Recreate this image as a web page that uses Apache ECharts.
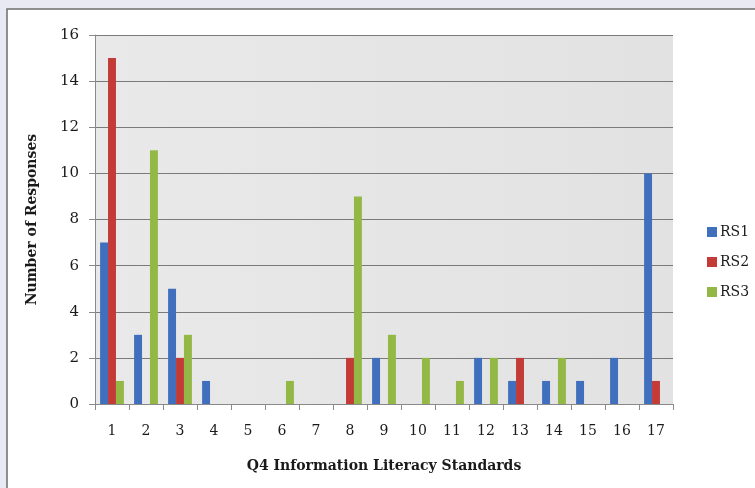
<!DOCTYPE html>
<html>
<head>
<meta charset="utf-8">
<script src="https://cdn.jsdelivr.net/npm/echarts@6/dist/echarts.min.js"></script>
<style>
  html, body { margin: 0; padding: 0; background: #e9e9f3; }
  #chart { width: 755px; height: 488px; }
</style>
</head>
<body>
<div id="chart"></div>
<script>
// Response counts per information literacy standard
const standards = ['1','2','3','4','5','6','7','8','9','10','11','12','13','14','15','16','17'];
const rs1 = [7, 3, 5, 1, 0, 0, 0, 0, 2, 0, 0, 2, 1, 1, 1, 2, 10];
const rs2 = [15, 0, 2, 0, 0, 0, 0, 2, 0, 0, 0, 0, 2, 0, 0, 0, 1];
const rs3 = [1, 11, 3, 0, 0, 1, 0, 9, 3, 2, 1, 2, 0, 2, 0, 0, 0];
const seriesNames = ['RS1', 'RS2', 'RS3'];
const seriesColors = ['#3f6fbd', '#c23b36', '#93b846'];

const serif = '"DejaVu Serif", "Liberation Serif", serif';

const chart = echarts.init(document.getElementById('chart'), null, { renderer: 'canvas' });

const makeSeries = (name, data, color) => ({
  name: name,
  type: 'bar',
  data: data,
  barGap: '0%',
  barCategoryGap: '30%',
  itemStyle: { color: color },
  emphasis: { disabled: true }
});

chart.setOption({
  animation: false,
  backgroundColor: '#e9e9f3',
  graphic: [{
    type: 'rect',
    shape: { x: 7, y: 9, width: 760, height: 490 },
    style: { fill: '#ffffff', stroke: '#6e6e6e', lineWidth: 1.5 },
    z: -10
  }],
  grid: {
    left: 95, right: 82, top: 35, bottom: 84,
    show: true,
    borderWidth: 0,
    backgroundColor: new echarts.graphic.LinearGradient(0, 0, 1, 0, [
      { offset: 0, color: '#e9e9e9' },
      { offset: 1, color: '#e2e2e2' }
    ])
  },
  legend: {
    orient: 'vertical',
    left: 702, top: 220,
    itemWidth: 10, itemHeight: 10,
    itemGap: 16,
    icon: 'rect',
    data: seriesNames,
    textStyle: { fontFamily: serif, fontSize: 14, color: '#1a1a1a', padding: [0, 0, 0, -2] }
  },
  xAxis: {
    type: 'category',
    data: standards,
    name: 'Q4 Information Literacy Standards',
    nameLocation: 'middle',
    nameGap: 55,
    nameTextStyle: { fontFamily: serif, fontSize: 14, fontWeight: 'bold', color: '#1a1a1a' },
    axisLine: { lineStyle: { color: '#8a8a8a', width: 1 } },
    axisTick: { show: true, length: 6, lineStyle: { color: '#8a8a8a' } },
    axisLabel: { fontFamily: serif, fontSize: 14, color: '#1a1a1a', margin: 20 },
    splitLine: { show: false }
  },
  yAxis: {
    type: 'value',
    min: 0, max: 16, interval: 2,
    name: 'Number of Responses',
    nameLocation: 'middle',
    nameGap: 56,
    nameTextStyle: { fontFamily: serif, fontSize: 14, fontWeight: 'bold', color: '#1a1a1a' },
    axisLine: { show: true, lineStyle: { color: '#8a8a8a', width: 1 } },
    axisTick: { show: true, length: 6, lineStyle: { color: '#8a8a8a' } },
    axisLabel: { fontFamily: serif, fontSize: 15, color: '#1a1a1a', margin: 16 },
    splitLine: { show: true, lineStyle: { color: '#7a7a7a', width: 1 } }
  },
  series: [
    makeSeries(seriesNames[0], rs1, seriesColors[0]),
    makeSeries(seriesNames[1], rs2, seriesColors[1]),
    makeSeries(seriesNames[2], rs3, seriesColors[2])
  ]
});
</script>
</body>
</html>
